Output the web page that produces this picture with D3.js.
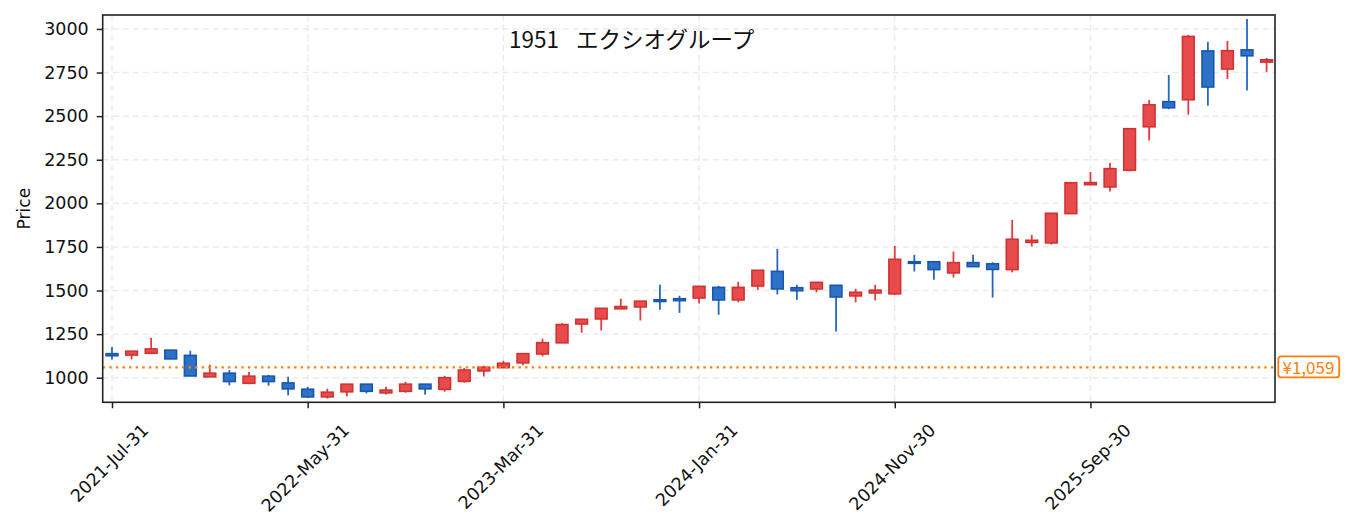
<!DOCTYPE html>
<html>
<head>
<meta charset="utf-8">
<script src="https://cdn.jsdelivr.net/npm/d3@7"></script>
<style>
  body { margin: 0; background: #fff; }
  svg { display: block; }
</style>
</head>
<body>
<script>
// monthly candles, 2021-07 .. 2026-06
const months = [
  "2021-07","2021-08","2021-09","2021-10","2021-11","2021-12",
  "2022-01","2022-02","2022-03","2022-04","2022-05","2022-06","2022-07","2022-08","2022-09","2022-10","2022-11","2022-12",
  "2023-01","2023-02","2023-03","2023-04","2023-05","2023-06","2023-07","2023-08","2023-09","2023-10","2023-11","2023-12",
  "2024-01","2024-02","2024-03","2024-04","2024-05","2024-06","2024-07","2024-08","2024-09","2024-10","2024-11","2024-12",
  "2025-01","2025-02","2025-03","2025-04","2025-05","2025-06","2025-07","2025-08","2025-09","2025-10","2025-11","2025-12",
  "2026-01","2026-02","2026-03","2026-04","2026-05","2026-06"
];
const openP  = [1138,1130,1140,1158,1128,1005,1026,968,1009,970,934,890,919,963,913,922,963,933,979,1039,
                1058,1085,1136,1200,1308,1337,1395,1406,1447,1453,1457,1518,1446,1526,1610,1516,1509,1530,1469,1486,
                1481,1665,1665,1601,1660,1653,1620,1776,1773,1941,2107,2094,2190,2439,2583,2594,2874,2770,2880,2810];
const highP  = [1176,1153,1229,1160,1155,1074,1044,1033,1017,1006,947,937,964,964,948,977,964,1011,1056,1069,
                1097,1139,1224,1313,1336,1399,1453,1440,1533,1470,1525,1527,1550,1617,1739,1533,1548,1531,1510,1533,
                1756,1705,1667,1724,1705,1662,1905,1819,1944,2119,2180,2232,2430,2593,2736,2966,2926,2931,3057,2834];
const lowP   = [1105,1105,1138,1107,1010,1004,956,962,954,899,884,881,893,910,904,914,903,920,971,1007,
                1057,1071,1122,1199,1258,1271,1394,1328,1390,1372,1426,1361,1432,1504,1477,1447,1489,1265,1432,1443,
                1474,1609,1562,1575,1636,1460,1604,1752,1764,1940,2106,2068,2183,2360,2540,2509,2560,2713,2647,2754];
const closeP = [1126,1152,1165,1108,1010,1026,978,1009,978,936,890,917,963,922,929,963,936,1000,1044,1060,
                1083,1138,1201,1305,1335,1398,1408,1439,1437,1442,1524,1446,1518,1616,1509,1499,1547,1463,1490,1502,
                1679,1656,1620,1660,1637,1621,1794,1788,1943,2118,2119,2199,2428,2565,2548,2957,2667,2875,2846,2823];

const tickIdx = [0, 10, 20, 30, 40, 50];
const tickLabels = ["2021-Jul-31","2022-May-31","2023-Mar-31","2024-Jan-31","2024-Nov-30","2025-Sep-30"];
const yTicks = [1000,1250,1500,1750,2000,2250,2500,2750,3000];
const refPrice = 1059;
const titleCode = "1951";
const titleName = "エクシオグループ";

const W = 1353, H = 531;
const pLeft = 102.7, pRight = 1275, pTop = 15, pBottom = 402.3;

const svg = d3.select("body").append("svg")
  .attr("width", W)
  .attr("height", H);

const x = d3.scaleLinear().domain([-0.475, 59.43]).range([pLeft, pRight]);
const y = d3.scaleLinear().domain([859, 3080]).range([pBottom, pTop]);

const data = months.map((m, i) => ({
  i: i, m: m, o: openP[i], h: highP[i], l: lowP[i], c: closeP[i]
}));

// grid
const grid = svg.append("g");
grid.selectAll(".gx").data(tickIdx).enter().append("line")
  .attr("x1", d => x(d)).attr("x2", d => x(d))
  .attr("y1", pTop).attr("y2", pBottom)
  .attr("stroke", "#ebebeb").attr("stroke-width", 1.5)
  .attr("stroke-dasharray", "6,4");
grid.selectAll(".gy").data(yTicks).enter().append("line")
  .attr("x1", pLeft).attr("x2", pRight)
  .attr("y1", d => y(d)).attr("y2", d => y(d))
  .attr("stroke", "#ebebeb").attr("stroke-width", 1.5)
  .attr("stroke-dasharray", "6,4");

// candles
const bw = (x(1) - x(0)) * 0.6;
const upFill = "#e84b4b", upEdge = "#d13232", upWick = "#e23c3c";
const dnFill = "#2e72c8", dnEdge = "#1a55ae", dnWick = "#2468c2";

const candles = svg.append("g");
candles.selectAll("line").data(data).enter().append("line")
  .attr("x1", d => x(d.i)).attr("x2", d => x(d.i))
  .attr("y1", d => y(d.h)).attr("y2", d => y(d.l))
  .attr("stroke", d => d.c >= d.o ? upWick : dnWick)
  .attr("stroke-width", 1.8);

candles.selectAll("rect").data(data).enter().append("rect")
  .attr("x", d => x(d.i) - bw / 2)
  .attr("width", bw)
  .attr("y", d => y(Math.max(d.o, d.c)))
  .attr("height", d => Math.max(1, y(Math.min(d.o, d.c)) - y(Math.max(d.o, d.c))))
  .attr("fill", d => d.c >= d.o ? upFill : dnFill)
  .attr("stroke", d => d.c >= d.o ? upEdge : dnEdge)
  .attr("stroke-width", 1.6);

// reference line
svg.append("line")
  .attr("x1", pLeft).attr("x2", pRight)
  .attr("y1", y(refPrice)).attr("y2", y(refPrice))
  .attr("stroke", "#ff7f0e")
  .attr("stroke-width", 2.2)
  .attr("stroke-dasharray", "2.4,4.2");

// frame
svg.append("rect")
  .attr("x", pLeft).attr("y", pTop)
  .attr("width", pRight - pLeft).attr("height", pBottom - pTop)
  .attr("fill", "none")
  .attr("stroke", "#222")
  .attr("stroke-width", 1.6);

// axes
const tickFont = "'DejaVu Sans', sans-serif";
const yAxis = svg.append("g")
  .attr("transform", `translate(${pLeft},0)`)
  .call(d3.axisLeft(y).tickValues(yTicks).tickSize(6).tickPadding(8).tickFormat(d3.format("d")));
yAxis.select(".domain").remove();
yAxis.selectAll("line").attr("stroke", "#222").attr("stroke-width", 1.5);
yAxis.selectAll("text")
  .attr("font-family", tickFont)
  .attr("font-size", "17.5px")
  .attr("fill", "#111");

const xAxis = svg.append("g")
  .attr("transform", `translate(0,${pBottom})`)
  .call(d3.axisBottom(x).tickValues(tickIdx).tickSize(6).tickFormat((d, k) => tickLabels[k]));
xAxis.select(".domain").remove();
xAxis.selectAll("line").attr("stroke", "#222").attr("stroke-width", 1.5);
xAxis.selectAll("text")
  .attr("font-family", tickFont)
  .attr("font-size", "17.5px")
  .attr("fill", "#111")
  .attr("text-anchor", "middle")
  .attr("y", 0)
  .attr("dy", "0.35em")
  .attr("transform", function () {
    const L = this.getComputedTextLength();
    const hgt = 17.5 * 1.15;
    return `translate(-3,${17.7 + (L + hgt) * 0.3536}) rotate(-45)`;
  });

// y label
svg.append("text")
  .attr("transform", `translate(30,${(pTop + pBottom) / 2}) rotate(-90)`)
  .attr("text-anchor", "middle")
  .attr("font-family", tickFont)
  .attr("font-size", "17px")
  .attr("fill", "#111")
  .text("Price");

// title
const titleText = svg.append("text")
  .attr("x", 509)
  .attr("y", 48)
  .attr("font-family", "'Noto Sans CJK JP', sans-serif")
  .attr("font-size", "22.5px")
  .attr("fill", "#111");
titleText.append("tspan").text(titleCode);
titleText.append("tspan").attr("dx", 17).text(titleName);

// price tag
const tag = svg.append("g");
const tagText = tag.append("text")
  .attr("x", pRight + 7.5)
  .attr("y", y(refPrice))
  .attr("dy", "0.36em")
  .attr("font-family", "'Noto Sans CJK JP', sans-serif")
  .attr("font-size", "17px")
  .attr("fill", "#ff7f0e")
  .text("¥" + d3.format(",")(refPrice));
const tl = tagText.node().getComputedTextLength();
tag.insert("rect", "text")
  .attr("x", pRight + 3.3)
  .attr("y", y(refPrice) - 11)
  .attr("width", tl + 9)
  .attr("height", 21)
  .attr("rx", 3)
  .attr("fill", "#fff")
  .attr("stroke", "#ff7f0e")
  .attr("stroke-width", 1.8);
</script>
</body>
</html>
